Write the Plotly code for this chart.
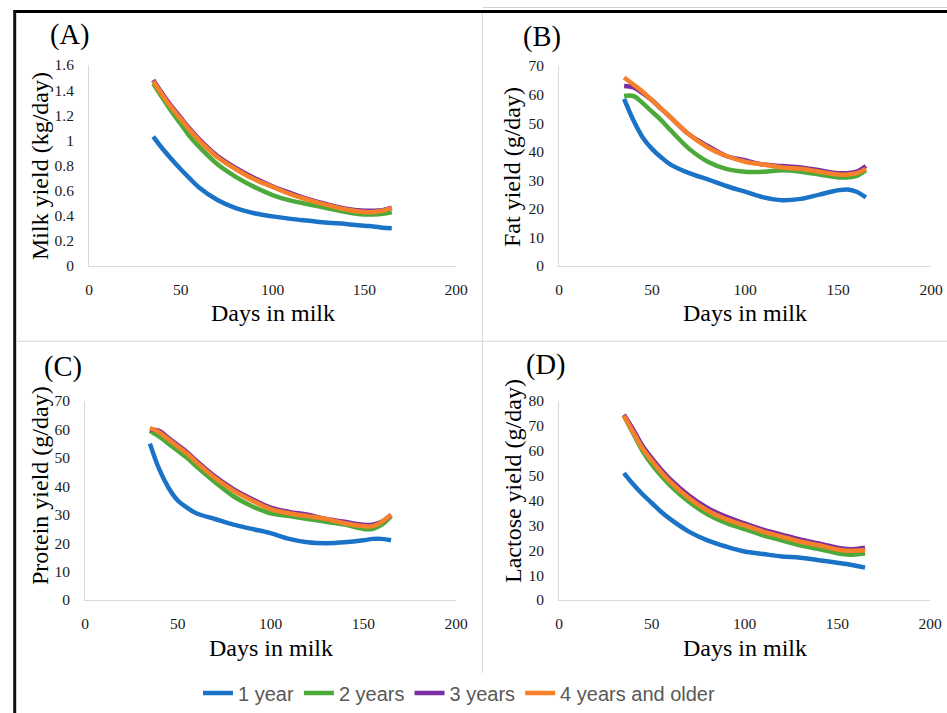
import plotly.graph_objects as go

# ---------------- data ----------------
days = [35, 40, 45, 50, 55, 60, 70, 80, 90, 100, 110, 120, 130, 140, 150, 155, 160, 165]
series_names = ["1 year", "2 years", "3 years", "4 years and older"]

milk_1y = [1.03, 0.935, 0.85, 0.77, 0.695, 0.625, 0.525, 0.46, 0.42, 0.395, 0.375, 0.36, 0.345, 0.335, 0.32, 0.315, 0.305, 0.30]
milk_2y = [1.45, 1.34, 1.23, 1.13, 1.03, 0.95, 0.81, 0.71, 0.63, 0.565, 0.52, 0.49, 0.46, 0.43, 0.41, 0.41, 0.415, 0.43]
milk_3y = [1.48, 1.37, 1.27, 1.18, 1.09, 1.01, 0.875, 0.78, 0.70, 0.635, 0.58, 0.53, 0.49, 0.455, 0.44, 0.44, 0.445, 0.465]
milk_4y = [1.47, 1.36, 1.26, 1.17, 1.08, 1.00, 0.865, 0.77, 0.69, 0.63, 0.57, 0.525, 0.485, 0.45, 0.43, 0.43, 0.44, 0.46]

fat_1y = [58.5, 51, 45, 41, 38, 35.5, 32.5, 30.3, 28, 26, 24, 23, 23.5, 25, 26.5, 26.8, 26, 24]
fat_2y = [59.5, 59.5, 57, 54, 51, 47.5, 41, 36.5, 34, 33, 33, 33.5, 33, 32, 31, 31, 31.5, 33.5]
fat_3y = [63, 62.5, 60.5, 58, 55, 52, 46, 42, 38.5, 37, 35.5, 35, 34.5, 33.5, 32.5, 32.5, 33, 35]
fat_4y = [66, 63.5, 61, 58, 55, 52, 46, 41.5, 38.5, 36.5, 35.5, 34.5, 34, 33, 32, 32, 32.5, 34]

prot_1y = [55, 46, 39.5, 35, 32.5, 30.5, 28.5, 26.5, 25, 23.5, 21.5, 20.3, 20, 20.3, 21, 21.5, 21.5, 21]
prot_2y = [59.5, 57.5, 55, 52.5, 50, 47, 41.5, 36.5, 33, 30.5, 29.5, 28.5, 27.5, 26.5, 25, 25, 26.5, 29.5]
prot_3y = [60, 59.5, 57, 54.5, 52, 49, 43.5, 39, 35.5, 32.5, 31, 30, 28.5, 27.5, 26.5, 26.5, 27.5, 30]
prot_4y = [60.5, 59, 56.5, 54, 51.5, 48.5, 43, 38.5, 35, 32, 30.5, 29.5, 28.5, 27, 26, 26, 27.5, 30]

lact_1y = [51, 46.5, 42.5, 39, 35.5, 32.5, 27.5, 24, 21.5, 19.5, 18.5, 17.5, 17, 16, 15, 14.5, 13.8, 13]
lact_2y = [74, 67, 60, 54.5, 50, 46, 39.5, 34.5, 31, 28.5, 26, 24, 22, 20.5, 18.8, 18.3, 18.3, 18.8]
lact_3y = [74.5, 68.5, 62, 57, 52.5, 48.5, 42, 37, 33.5, 30.8, 28.3, 26.3, 24.3, 22.7, 21, 20.5, 20.5, 21]
lact_4y = [74, 67.5, 61, 56, 51.5, 47.5, 41, 36, 32.5, 30, 27.5, 25.5, 23.5, 22, 20.3, 19.8, 19.8, 20]

x_ticks = [0, 50, 100, 150, 200]
milk_ticks = [0, 0.2, 0.4, 0.6, 0.8, 1, 1.2, 1.4, 1.6]
milk_tick_text = ["0", "0.2", "0.4", "0.6", "0.8", "1", "1.2", "1.4", "1.6"]
fat_ticks = [0, 10, 20, 30, 40, 50, 60, 70]
prot_ticks = [0, 10, 20, 30, 40, 50, 60, 70]
lact_ticks = [0, 10, 20, 30, 40, 50, 60, 70, 80]

panel_labels = ["(A)", "(B)", "(C)", "(D)"]
y_titles = ["Milk yield (kg/day)", "Fat yield (g/day)", "Protein yield (g/day)", "Lactose yield (g/day)"]
x_title = "Days in milk"

# ---------------- styling ----------------
W, H = 947, 713
colors = ["#1B73C8", "#4CAA3A", "#7B2FA2", "#F7802A"]
SERIF = "Liberation Serif, Times New Roman, serif"
SANS = "Liberation Sans, Arial, sans-serif"
AXIS_GRAY = "#D9D9D9"


def px_x(p):
    return p / W


def px_y(p):
    return 1 - p / H


# plot-area pixel boxes: (left, right, top, bottom)
boxes = [(89, 456, 65, 266), (559, 931, 66, 266), (85, 456, 401, 600), (559, 930, 401, 600)]
panels = [
    ([milk_1y, milk_2y, milk_3y, milk_4y], [0, 1.6], milk_ticks, milk_tick_text),
    ([fat_1y, fat_2y, fat_3y, fat_4y], [0, 70], fat_ticks, [str(v) for v in fat_ticks]),
    ([prot_1y, prot_2y, prot_3y, prot_4y], [0, 70], prot_ticks, [str(v) for v in prot_ticks]),
    ([lact_1y, lact_2y, lact_3y, lact_4y], [0, 80], lact_ticks, [str(v) for v in lact_ticks]),
]
label_pos = [(70, 35), (542, 37), (63, 367), (546, 365)]
ytitle_pos = [(40, 166), (512, 167), (40, 486), (513, 481)]
xtitle_pos = [(273, 313), (745, 313), (271, 648), (745, 648)]

fig = go.Figure()
layout = dict(
    width=W, height=H, autosize=False,
    margin=dict(l=0, r=0, t=0, b=0, pad=0, autoexpand=False),
    paper_bgcolor="white", plot_bgcolor="white",
    showlegend=True,
    legend=dict(orientation="h", x=px_x(459), xanchor="center", y=px_y(693), yanchor="middle",
                font=dict(family=SANS, size=20, color="#595959"),
                itemwidth=30, tracegroupgap=0, bgcolor="rgba(0,0,0,0)"),
)

annotations = []
for i, (vals, yr, yt, ytt) in enumerate(panels):
    k = "" if i == 0 else str(i + 1)
    l, r, t, b = boxes[i]
    for j, v in enumerate(vals):
        fig.add_trace(go.Scatter(
            x=days, y=v, mode="lines", name=series_names[j],
            line=dict(color=colors[j], width=4.5, shape="spline"),
            xaxis="x" + k, yaxis="y" + k,
            legendgroup=series_names[j], showlegend=(i == 0),
        ))
    layout["xaxis" + k] = dict(
        domain=[px_x(l), px_x(r)], range=[0, 200], anchor="y" + k, automargin=False,
        tickvals=x_ticks, ticktext=[str(v) for v in x_ticks],
        showgrid=False, zeroline=False, showline=True, linecolor=AXIS_GRAY, linewidth=1,
        ticks="outside", ticklen=9, tickcolor="rgba(0,0,0,0)",
        tickfont=dict(family=SERIF, size=15.5, color="#1a1a1a"),
    )
    layout["yaxis" + k] = dict(
        domain=[px_y(b), px_y(t)], range=yr, anchor="x" + k, automargin=False,
        tickvals=yt, ticktext=ytt,
        showgrid=False, zeroline=False, showline=True, linecolor=AXIS_GRAY, linewidth=1,
        ticks="outside", ticklen=11, tickcolor="rgba(0,0,0,0)",
        tickfont=dict(family=SERIF, size=15.5, color="#1a1a1a"),
    )
    lx, ly = label_pos[i]
    annotations.append(dict(text=panel_labels[i], x=px_x(lx), y=px_y(ly), xref="paper", yref="paper",
                            showarrow=False, xanchor="center", yanchor="middle",
                            font=dict(family=SERIF, size=28.5, color="#000000")))
    tx, ty = ytitle_pos[i]
    annotations.append(dict(text=y_titles[i], x=px_x(tx), y=px_y(ty), xref="paper", yref="paper",
                            showarrow=False, xanchor="center", yanchor="middle", textangle=-90,
                            font=dict(family=SERIF, size=24, color="#000000")))
    xx, xy = xtitle_pos[i]
    annotations.append(dict(text=x_title, x=px_x(xx), y=px_y(xy), xref="paper", yref="paper",
                            showarrow=False, xanchor="center", yanchor="middle",
                            font=dict(family=SERIF, size=24, color="#000000")))

layout["annotations"] = annotations

shapes = [
    dict(type="line", xref="paper", yref="paper", x0=px_x(483), x1=1, y0=px_y(7.5), y1=px_y(7.5),
         line=dict(color="#D0D0D0", width=1)),
    dict(type="line", xref="paper", yref="paper", x0=px_x(13.5), x1=1, y0=px_y(11.5), y1=px_y(11.5),
         line=dict(color="#000000", width=3)),
    dict(type="line", xref="paper", yref="paper", x0=px_x(14.7), x1=px_x(14.7), y0=px_y(10), y1=0,
         line=dict(color="#111111", width=3)),
    dict(type="line", xref="paper", yref="paper", x0=px_x(16), x1=1, y0=px_y(341.3), y1=px_y(341.3),
         line=dict(color="#D6D6D6", width=1)),
    dict(type="line", xref="paper", yref="paper", x0=px_x(482.3), x1=px_x(482.3), y0=px_y(13), y1=px_y(673),
         line=dict(color="#D6D6D6", width=1)),
]
layout["shapes"] = shapes

fig.update_layout(**layout)
fig.write_html(
    "out.html",
    config={"displayModeBar": False},
    post_script="document.body.style.margin='0';document.body.style.overflow='hidden';",
)
